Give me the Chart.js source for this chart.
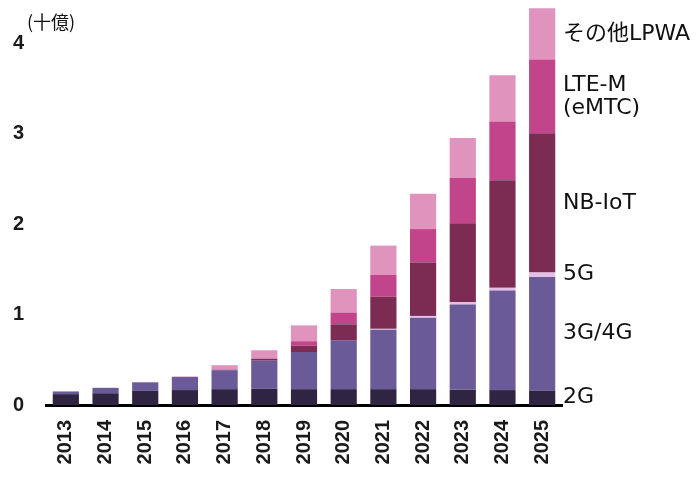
<!DOCTYPE html>
<html>
<head>
<meta charset="utf-8">
<script src="https://cdn.jsdelivr.net/npm/chart.js@4"></script>
<style>
  html, body { margin: 0; padding: 0; background: #fff; }
  #wrap { width: 698px; height: 478px; position: relative; }
</style>
</head>
<body>
<div id="wrap"><canvas id="c"></canvas></div>
<script>
const years = ['2013','2014','2015','2016','2017','2018','2019','2020','2021','2022','2023','2024','2025'];
const seriesNames = ['2G', '3G/4G', '5G', 'NB-IoT', 'LTE-M\n(eMTC)', 'その他LPWA'];
const g2    = [0.12, 0.13, 0.16, 0.165, 0.175, 0.18, 0.175, 0.175, 0.175, 0.175, 0.17, 0.165, 0.16];
const g34   = [0.03, 0.06, 0.09, 0.145, 0.21, 0.31, 0.41, 0.537, 0.657, 0.79, 0.94, 1.1, 1.255];
const g5    = [0, 0, 0, 0, 0, 0, 0, 0, 0.01, 0.02, 0.025, 0.03, 0.05];
const nbiot = [0, 0, 0, 0, 0.005, 0.02, 0.07, 0.18, 0.355, 0.59, 0.874, 1.19, 1.54];
const ltem  = [0, 0, 0, 0, 0, 0.005, 0.05, 0.13, 0.24, 0.37, 0.5, 0.65, 0.815];
const other = [0, 0, 0.005, 0.005, 0.05, 0.09, 0.175, 0.26, 0.325, 0.39, 0.444, 0.51, 0.567];
const yTicks = [0, 1, 2, 3, 4];
const unitLabel = '(十億)';

const colors = ['#2f2442', '#6a5b98', '#e6bfe6', '#7c2b52', '#c2448a', '#df93bd'];
const seriesData = [g2, g34, g5, nbiot, ltem, other];

const sideLabels = {
  id: 'sideLabels',
  afterDraw(chart) {
    const ctx = chart.ctx;
    const last = years.length - 1;
    ctx.save();
    ctx.fillStyle = '#111';
    ctx.font = '22px "DejaVu Sans", "Noto Sans CJK JP", sans-serif';
    ctx.textAlign = 'left';
    ctx.textBaseline = 'middle';
    const x = chart.chartArea.right + 1;
    seriesNames.forEach((name, i) => {
      const el = chart.getDatasetMeta(i).data[last];
      const yc = (el.y + el.base) / 2;
      const lines = name.split('\n');
      lines.forEach((ln, j) => {
        ctx.fillText(ln, x, yc + (j - (lines.length - 1) / 2) * 23);
      });
    });
    ctx.font = '18px "Noto Sans CJK JP", sans-serif';
    ctx.fillText(unitLabel, 27, 22);
    ctx.restore();
  }
};

new Chart(document.getElementById('c'), {
  type: 'bar',
  data: {
    labels: years,
    datasets: seriesData.map((d, i) => ({
      label: seriesNames[i],
      data: d,
      backgroundColor: colors[i],
      borderWidth: 0,
      barPercentage: 0.66,
      categoryPercentage: 1.0
    }))
  },
  options: {
    responsive: true,
    maintainAspectRatio: false,
    animation: false,
    layout: { padding: { top: 7, right: 136, left: 0, bottom: 0 } },
    plugins: { legend: { display: false }, tooltip: { enabled: false } },
    scales: {
      x: {
        stacked: true,
        grid: { display: false, drawTicks: false },
        border: { display: true, color: '#000', width: 3 },
        afterFit(s) { s.height = 73; s.paddingLeft = 0; s.paddingRight = 0; s.paddingTop = 0; s.paddingBottom = 0; },
        ticks: {
          autoSkip: false,
          minRotation: 90,
          maxRotation: 90,
          padding: 15,
          color: '#1a1a1a',
          font: { family: '"Liberation Sans", Arial, sans-serif', size: 20, weight: 'bold' }
        }
      },
      y: {
        stacked: true,
        min: 0,
        max: 4.4,
        afterFit(s) { s.width = 46; s.paddingTop = 0; s.paddingBottom = 0; s.paddingLeft = 0; s.paddingRight = 0; },
        afterBuildTicks(s) { s.ticks = yTicks.map(v => ({ value: v })); },
        grid: { display: false, drawTicks: false },
        border: { display: false },
        ticks: {
          includeBounds: false,
          padding: 22,
          color: '#1a1a1a',
          font: { family: '"Liberation Sans", Arial, sans-serif', size: 20, weight: 'bold' }
        }
      }
    }
  },
  plugins: [sideLabels]
});
</script>
</body>
</html>
